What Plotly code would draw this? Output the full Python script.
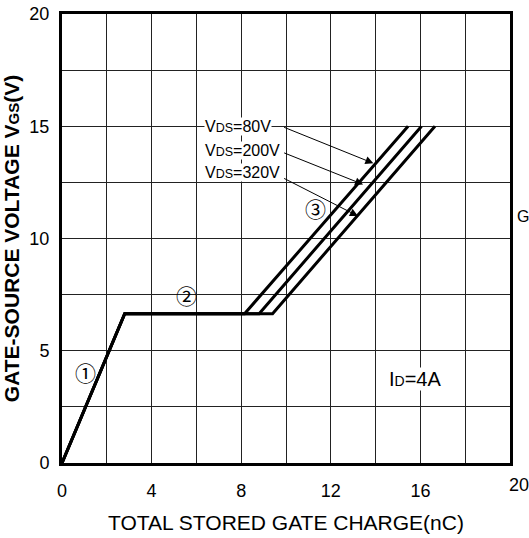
import plotly.graph_objects as go

# gate charge curves (nC, V)
q_80 = [0, 2.8, 8.15, 15.45]
v_80 = [0, 6.65, 6.65, 15]
q_200 = [0, 2.8, 8.8, 16.05]
v_200 = [0, 6.65, 6.65, 15]
q_320 = [0, 2.8, 9.4, 16.65]
v_320 = [0, 6.65, 6.65, 15]

series_labels = ["V<span style='font-size:12.5px'>DS</span>=80V",
                 "V<span style='font-size:12.5px'>DS</span>=200V",
                 "V<span style='font-size:12.5px'>DS</span>=320V"]
label_y = [15.0, 13.94, 12.92]
# arrows: tail -> tip
arrow_tail_q = [9.85, 9.85, 9.85]
arrow_tail_v = [14.98, 13.84, 12.71]
arrow_tip_q = [13.9, 13.44, 13.21]
arrow_tip_v = [13.35, 12.41, 11.0]

region_marks = ["\u2460", "\u2461", "\u2462"]
region_q = [1.03, 5.57, 11.3]
region_v = [4.0, 7.41, 11.3]

x_ticks = [0, 4, 8, 12, 16]
y_ticks = [0, 5, 10, 15, 20]

FONT = "Liberation Sans, Arial, Noto Sans CJK JP, sans-serif"

fig = go.Figure()
for q, v in [(q_80, v_80), (q_200, v_200), (q_320, v_320)]:
    fig.add_trace(go.Scatter(x=q, y=v, mode="lines",
                             line=dict(color="black", width=3),
                             showlegend=False, hoverinfo="skip"))

anns = []
for txt, y in zip(series_labels, label_y):
    anns.append(dict(x=6.33, y=y, xref="x", yref="y", text=txt,
                     showarrow=False, xanchor="left", yanchor="middle",
                     bgcolor="white", borderpad=0,
                     font=dict(size=16, color="black", family=FONT)))
for tq, tv, hq, hv in zip(arrow_tail_q, arrow_tail_v, arrow_tip_q, arrow_tip_v):
    anns.append(dict(x=hq, y=hv, ax=tq, ay=tv, xref="x", yref="y",
                     axref="x", ayref="y", text="", showarrow=True,
                     arrowhead=2, arrowsize=1.6, arrowwidth=1,
                     arrowcolor="black"))
for m, q, v in zip(region_marks, region_q, region_v):
    anns.append(dict(x=q, y=v, xref="x", yref="y", text=m, showarrow=False,
                     font=dict(size=21, color="black", family=FONT)))
anns.append(dict(x=15.75, y=3.75, xref="x", yref="y",
                 text="I<span style='font-size:14px'>D</span>=4A",
                 showarrow=False, bgcolor="white", borderpad=0,
                 xanchor="center", yanchor="middle",
                 font=dict(size=20, color="black", family=FONT)))
# stray "20" tick label, set a bit off the axis in the original
anns.append(dict(x=1.02, y=-0.049, xref="paper", yref="paper", text="20",
                 showarrow=False, xanchor="center", yanchor="middle",
                 font=dict(size=18, color="black", family=FONT)))
# cut-off letter from the neighbouring chart
anns.append(dict(x=1.028, y=0.548, xref="paper", yref="paper", text="G",
                 showarrow=False, xanchor="center", yanchor="middle",
                 font=dict(size=16, color="black", family=FONT)))

fig.update_layout(
    width=529, height=538,
    margin=dict(l=62, r=19, t=14, b=75),
    plot_bgcolor="white", paper_bgcolor="white",
    font=dict(family=FONT, color="black"),
    annotations=anns,
)
fig.update_xaxes(
    range=[0, 20], tickvals=x_ticks, showgrid=True, gridcolor="#222", gridwidth=1,
    minor=dict(dtick=2, tick0=0, showgrid=True, gridcolor="#222", gridwidth=1),
    showline=True, linecolor="black", linewidth=3, mirror=True,
    zeroline=False, ticks="", ticklabelstandoff=9, automargin=False,
    tickfont=dict(size=18),
    title=dict(text="TOTAL STORED GATE CHARGE(nC)", font=dict(size=21), standoff=16),
)
fig.update_yaxes(
    range=[0, 20], tickvals=y_ticks, showgrid=True, gridcolor="#222", gridwidth=1,
    minor=dict(dtick=2.5, tick0=0, showgrid=True, gridcolor="#222", gridwidth=1),
    showline=True, linecolor="black", linewidth=3, mirror=True,
    zeroline=False, ticks="", ticklabelstandoff=6, automargin=False,
    tickfont=dict(size=18),
    title=dict(text="<b>GATE-SOURCE VOLTAGE V<span style='font-size:15px'>GS</span>(V)</b>",
               font=dict(size=21), standoff=6),
)

fig.write_html("out.html", config={"displayModeBar": False},
               post_script="document.body.style.margin='0';")
